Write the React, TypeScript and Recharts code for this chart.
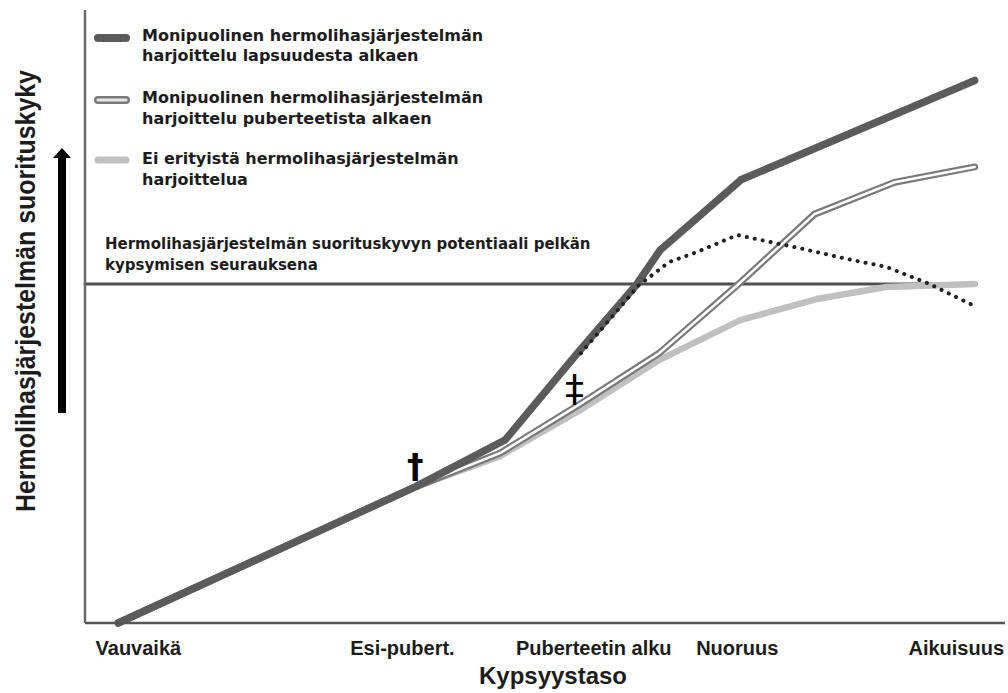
import { Legend, Line, LineChart, ReferenceDot, ReferenceLine, XAxis, YAxis } from 'recharts';

const STAGES = ['Vauvaikä', 'Esi-pubert.', 'Puberteetin alku', 'Nuoruus', 'Aikuisuus'];
const STAGE_POS = [5.8, 34.5, 55.3, 70.9, 94.7];

// harjoittelu lapsuudesta alkaen
const CHILD_X = [3.6, 35.9, 45.7, 53.8, 59.9, 62.5, 71.3, 96.7];
const CHILD_Y = [0, 22.2, 29.9, 44.5, 55.1, 60.8, 72.3, 88.5];

// harjoittelu puberteetista alkaen
const PUB_X = [3.6, 35.9, 45.1, 53.8, 62.4, 70.9, 79.3, 88.0, 96.7];
const PUB_Y = [0, 22.2, 27.7, 35.7, 44.0, 55.1, 66.7, 71.9, 74.4];

// ei erityistä harjoittelua
const NONE_X = [3.6, 35.9, 45.1, 53.8, 62.4, 71.2, 79.7, 87.1, 96.7];
const NONE_Y = [0, 22.2, 27.2, 34.7, 42.9, 49.4, 52.9, 54.8, 55.3];

// harjoittelu lopetettu (pisteviiva)
const STOP_X = [53.9, 60.2, 63.5, 66.5, 70.9, 77.5, 83.4, 87.1, 91.8, 96.3];
const STOP_Y = [44.0, 55.1, 58.9, 60.5, 63.3, 61.2, 59.2, 58.1, 55.3, 52.0];

const POTENTIAL = 55.3;
const POTENTIAL_END = 96.9;

const LEGEND = [
  ['Monipuolinen hermolihasjärjestelmän', 'harjoittelu lapsuudesta alkaen'],
  ['Monipuolinen hermolihasjärjestelmän', 'harjoittelu puberteetista alkaen'],
  ['Ei erityistä hermolihasjärjestelmän', 'harjoittelua'],
];

const zip = (xs: number[], ys: number[]) => xs.map((x, i) => ({ x, y: ys[i] }));
const childData = zip(CHILD_X, CHILD_Y);
const pubData = zip(PUB_X, PUB_Y);
const noneData = zip(NONE_X, NONE_Y);
const stopData = zip(STOP_X, STOP_Y);

const DARK = '#5b5b5b';
const MID = '#7a7a7a';
const LIGHT = '#c0c0c0';
const INK = '#1c1c1c';
const SANS = "'DejaVu Sans', sans-serif";
const ARIAL = "'Liberation Sans', Arial, sans-serif";

const LegendBox = () => {
  const rows = [40.5, 103, 164];
  return (
    <svg width={520} height={200} style={{ display: 'block' }}>
      <line x1={98} x2={126} y1={38} y2={38} stroke={DARK} strokeWidth={8} strokeLinecap="round" />
      <line x1={98} x2={126} y1={100} y2={100} stroke={MID} strokeWidth={8} strokeLinecap="round" />
      <line x1={98} x2={126} y1={100} y2={100} stroke="#e6e6e6" strokeWidth={3} strokeLinecap="round" />
      <line x1={98} x2={126} y1={160} y2={160} stroke={LIGHT} strokeWidth={7} strokeLinecap="round" />
      {LEGEND.map((lines, i) => (
        <text key={i} x={142} y={rows[i]} fontFamily={SANS} fontWeight="bold" fontSize={16} fill={INK}>
          <tspan x={142}>{lines[0]}</tspan>
          <tspan x={142} dy={20.5}>{lines[1]}</tspan>
        </text>
      ))}
    </svg>
  );
};

const YLabel = (props: any) => {
  const { viewBox } = props;
  const cy = 291;
  return (
    <g>
      <text
        x={35}
        y={cy}
        transform={`rotate(-90, 35, ${cy})`}
        textAnchor="middle"
        fontFamily="'Liberation Sans Narrow', 'Liberation Sans', sans-serif"
        fontWeight="bold"
        fontSize={28}
        textLength={442}
        lengthAdjust="spacingAndGlyphs"
        fill={INK}
      >
        Hermolihasjärjestelmän suorituskyky
      </text>
      <rect x={viewBox.x + 58} y={157} width={8} height={256} fill="#000" />
      <polygon points={`${viewBox.x + 53},158 ${viewBox.x + 71},158 ${viewBox.x + 62},148`} fill="#000" />
    </g>
  );
};

const XLabel = (props: any) => {
  const { viewBox } = props;
  return (
    <text x={553} y={viewBox.y + 61} textAnchor="middle" fontFamily={ARIAL} fontWeight="bold" fontSize={24} fill={INK}>
      Kypsyystaso
    </text>
  );
};

const PotentialLabel = (props: any) => {
  const { viewBox } = props;
  return (
    <text x={viewBox.x + 20} y={viewBox.y - 35} fontFamily={SANS} fontWeight="bold" fontSize={15} fill={INK}>
      <tspan x={viewBox.x + 20}>Hermolihasjärjestelmän suorituskyvyn potentiaali pelkän</tspan>
      <tspan x={viewBox.x + 20} dy={21}>kypsymisen seurauksena</tspan>
    </text>
  );
};

const mark = (symbol: string, size: number, weight: string) => (p: any) => (
  <text x={p.cx} y={p.cy} textAnchor="middle" fontFamily={SANS} fontWeight={weight} fontSize={size} fill="#000">
    {symbol}
  </text>
);

export default function App() {
  return (
    <div style={{ position: 'absolute', left: 0, top: 0, background: '#fff' }}>
      <LineChart width={1008} height={693} margin={{ top: 10, right: 3, bottom: 0, left: 0 }}>
        <XAxis
          type="number"
          dataKey="x"
          domain={[0, 100]}
          ticks={STAGE_POS}
          tickFormatter={(v: number) => STAGES[STAGE_POS.indexOf(v)]}
          interval={0}
          height={70}
          tickLine={false}
          tickMargin={12}
          axisLine={{ stroke: '#555', strokeWidth: 2.5 }}
          tick={{ fontSize: 20, fontWeight: 'bold', fill: INK, fontFamily: ARIAL }}
          label={<XLabel />}
        />
        <YAxis
          type="number"
          domain={[0, 100]}
          width={85}
          tick={false}
          tickLine={false}
          axisLine={{ stroke: '#6a6a6a', strokeWidth: 2.5 }}
          label={<YLabel />}
        />
        <Legend layout="vertical" align="center" verticalAlign="middle" content={<LegendBox />}
          wrapperStyle={{ left: 0, top: 0, width: 520, height: 200 }} />
        <ReferenceLine
          segment={[{ x: 0, y: POTENTIAL }, { x: POTENTIAL_END, y: POTENTIAL }]}
          stroke="#505050"
          strokeWidth={3}
          strokeLinecap="round"
          label={<PotentialLabel />}
        />
        <Line data={noneData} dataKey="y" stroke={LIGHT} strokeWidth={6.5} dot={false} strokeLinecap="round" isAnimationActive={false} legendType="none" />
        <Line data={pubData} dataKey="y" stroke={MID} strokeWidth={7} dot={false} strokeLinecap="round" isAnimationActive={false} legendType="none" />
        <Line data={pubData} dataKey="y" stroke="#ffffff" strokeWidth={2.5} dot={false} strokeLinecap="round" isAnimationActive={false} legendType="none" />
        <Line data={childData} dataKey="y" stroke={DARK} strokeWidth={7.5} dot={false} strokeLinecap="round" strokeLinejoin="round" isAnimationActive={false} legendType="none" />
        <Line data={stopData} dataKey="y" stroke="#222" strokeWidth={4} strokeDasharray="0.1 8" dot={false} strokeLinecap="round" isAnimationActive={false} legendType="none" />
        <ReferenceDot x={35.9} y={23.6} r={0} shape={mark('†', 33, 'bold')} />
        <ReferenceDot x={53.2} y={36.2} r={0} shape={mark('‡', 38, 'normal')} />
      </LineChart>
    </div>
  );
}
